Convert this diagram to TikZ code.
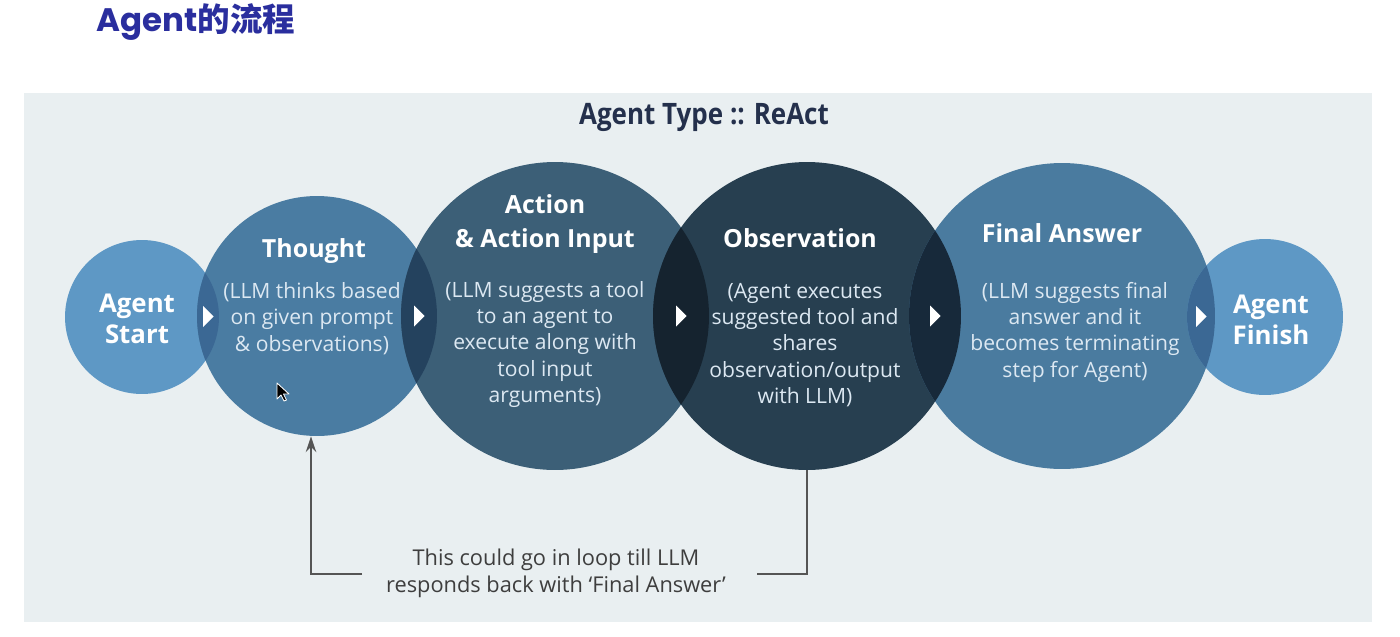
\documentclass[tikz,border=0pt]{standalone}
\usepackage{fontspec}
\setmainfont{Open Sans}
\newfontfamily\cjk{Noto Sans CJK SC}
\newfontfamily\pop{Poppins}
\newfontfamily\cond[FakeStretch=0.88]{Open Sans}
\usetikzlibrary{arrows.meta,calc}
\definecolor{panel}{HTML}{E9EFF1}
\definecolor{titleblue}{HTML}{2A2E9E}
\definecolor{navy}{HTML}{24304C}
\definecolor{cLight}{HTML}{5E98C5}
\definecolor{cMid}{HTML}{4A7CA2}
\definecolor{cAct}{HTML}{3C5F77}
\definecolor{cObs}{HTML}{273F50}
\definecolor{cFin}{HTML}{4A7B9F}
\definecolor{lensA}{HTML}{3B6894}
\definecolor{lensB}{HTML}{24425E}
\definecolor{lensC}{HTML}{15232F}
\definecolor{lensD}{HTML}{17293A}
\definecolor{bodytxt}{HTML}{DCE8F2}
\definecolor{loopgray}{HTML}{555555}
\definecolor{looptxt}{HTML}{3E3E3E}
\tikzset{
  ball/.style={circle, inner sep=0pt, draw=none, fill=#1},
  hd/.style={text=white, font=\fontsize{14.2}{19.3}\selectfont\bfseries, align=center, inner sep=0pt},
  endlbl/.style={text=white, font=\fontsize{14.7}{17.6}\selectfont\bfseries, align=center, inner sep=0pt},
  bd/.style={text=bodytxt, font=\fontsize{12}{15}\selectfont, align=center, inner sep=0pt},
  looplbl/.style={text=looptxt, font=\fontsize{12.4}{15.3}\selectfont, align=center, inner sep=0pt},
  loopline/.style={draw=loopgray, line width=0.85pt},
  tri/.style={fill=white}
}
\newcommand{\lens}[5]{% clip circle #1 radius #2, fill circle #3 radius #4 colour #5
  \begin{scope}
    \clip (#1.center) circle[radius=#2];
    \fill[#5] (#3.center) circle[radius=#4];
  \end{scope}}
\newcommand{\flowtri}[2]{%
  \fill[tri] ($(#1.east)!0.5!(#2.west)$) ++(-5,-10.5) -- ++(10.5,10.5) -- ++(-10.5,10.5) -- cycle;}
\begin{document}
\begin{tikzpicture}[x=0.02cm, y=-0.02cm]
\useasboundingbox (0,0) rectangle (1400,636);
\fill[white] (0,0) rectangle (1400,636);
\fill[panel] (24,93) rectangle (1372,622);

% title
\node[anchor=west, text=titleblue, font=\fontsize{18.5}{20}\selectfont\bfseries, inner sep=0pt] (title) at (96,22) {{\pop Agent}{\cjk 的流程}};
\node[text=navy, font=\fontsize{16.8}{19}\selectfont\bfseries\cond, inner sep=0pt] (subtitle) at (704,117) {Agent Type :: ReAct};

% circles
\node[ball=cLight, minimum size=3.08cm] (start) at (142,317) {};
\node[ball=cMid, minimum size=4.80cm] (thought) at (317,316) {};
\node[ball=cAct, minimum size=6.16cm] (action) at (555,316) {};
\node[ball=cObs, minimum size=6.16cm] (obs) at (807,316) {};
\node[ball=cFin, minimum size=6.12cm] (final) at (1062,316) {};
\node[ball=cLight, minimum size=3.12cm] (finish) at (1265,317) {};

% overlaps
\lens{start}{1.54cm}{thought}{2.40cm}{lensA}
\lens{thought}{2.40cm}{action}{3.08cm}{lensB}
\lens{action}{3.08cm}{obs}{3.08cm}{lensC}
\lens{obs}{3.08cm}{final}{3.06cm}{lensD}
\lens{final}{3.06cm}{finish}{1.56cm}{lensA}

% flow triangles
\flowtri{start}{thought}
\flowtri{thought}{action}
\flowtri{action}{obs}
\flowtri{obs}{final}
\flowtri{final}{finish}

% texts
\node[endlbl] (startlbl) at (137,318.5) {Agent\\Start};
\node[hd] (thoughthd) at (314,251) {Thought};
\node[bd] (thoughtbd) at (312,318.5) {(LLM thinks based\\on given prompt\\\& observations)};
\node[hd] (actionhd) at (545,224) {Action\\\& Action Input};
\node[bd] (actionbd) at (545,344.5) {(LLM suggests a tool\\to an agent to\\execute along with\\tool input\\arguments)};
\node[hd] (obshd) at (800,238) {Observation};
\node[bd] (obsbd) at (805,345) {(Agent executes\\suggested tool and\\shares\\observation/output\\with LLM)};
\node[hd] (finalhd) at (1062,233) {Final Answer};
\node[bd] (finalbd) at (1075,332) {(LLM suggests final\\answer and it\\becomes terminating\\step for Agent)};
\node[endlbl] (finishlbl) at (1271,319.5) {Agent\\Finish};

% loop
\node[looplbl] (loop) at (556,573) {This could go in loop till LLM\\responds back with ‘Final Answer’};
\coordinate (loopL) at (362,574);
\coordinate (loopR) at (757,574);
\draw[loopline] (obs.south) |- (loopR);
\draw[loopline, -{Stealth[length=9pt, width=6pt]}] (loopL) -| ([xshift=-0.12cm]thought.south);

% mouse cursor
\filldraw[fill=black, draw=white, line width=0.5pt, line join=round] (277,383) -- (277,399) -- (281,395) -- (284,401) -- (286.5,400) -- (283.5,394) -- (289,394) -- cycle;
\end{tikzpicture}
\end{document}
